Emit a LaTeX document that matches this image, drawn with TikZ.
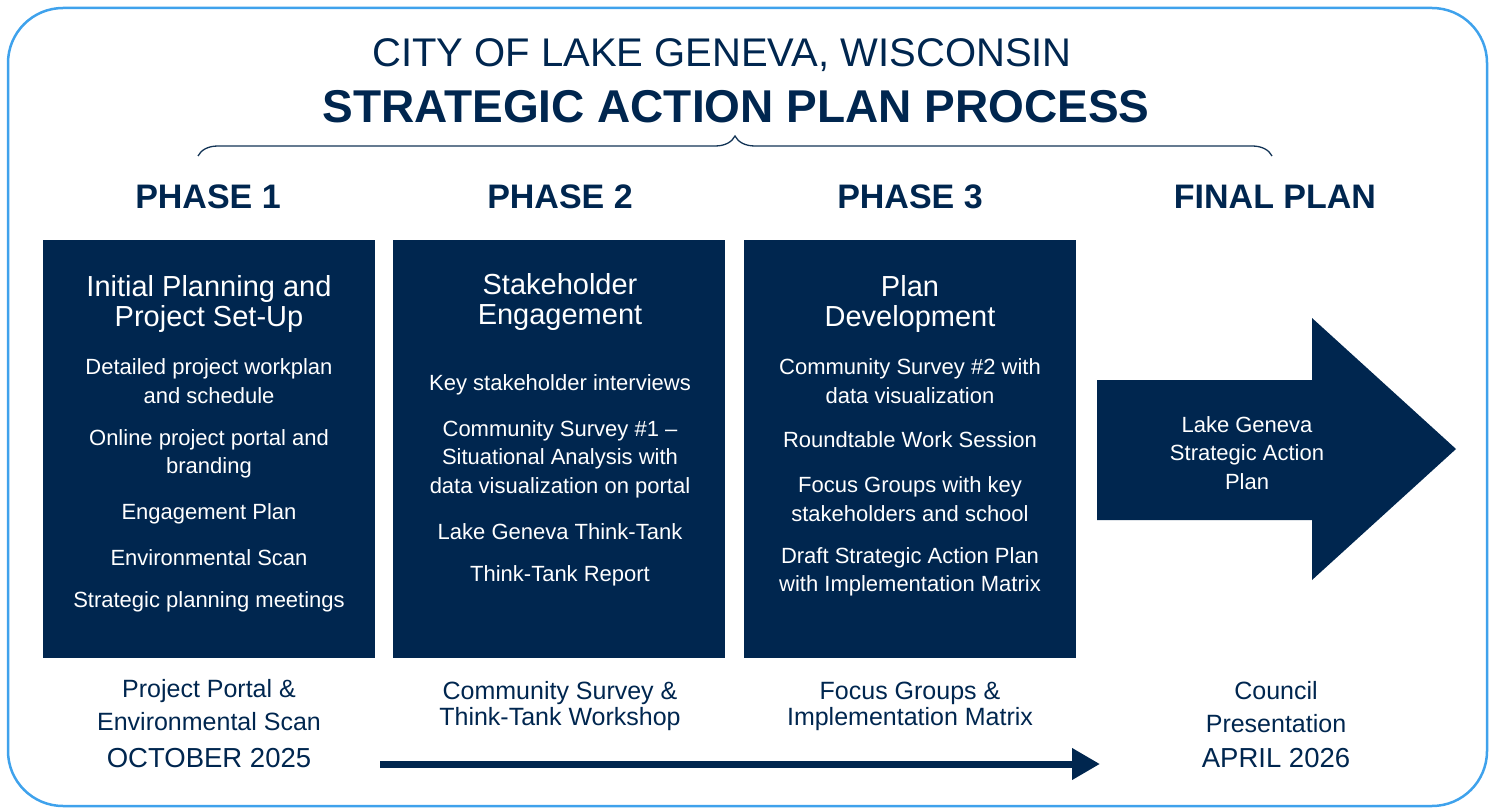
\documentclass[tikz,border=0pt]{standalone}
\usepackage{fontspec}
\setmainfont{Liberation Sans}
\usetikzlibrary{arrows.meta,decorations.pathreplacing}
\definecolor{navy}{HTML}{00264F}
\definecolor{skyedge}{HTML}{3FA2EC}
\tikzset{
  phasebox/.style={fill=navy,draw=none,minimum width=332pt,minimum height=418pt,inner sep=0pt},
  boxtitle/.style={text=white,align=center,font=\fontsize{29}{30.5}\selectfont},
  boxitem/.style={text=white,align=center,font=\fontsize{22}{28.5}\selectfont},
  phasehead/.style={text=navy,font=\bfseries\fontsize{34}{38}\selectfont},
  milestone/.style={text=navy,align=center,font=\fontsize{25}{26}\selectfont},
  datelabel/.style={text=navy,font=\fontsize{27.5}{30}\selectfont}
}
\begin{document}
\begin{tikzpicture}[x=1pt,y=-1pt]
      \useasboundingbox (0,0) rectangle (1495,810);
      \draw[skyedge,line width=2.5pt,rounded corners=55pt] (8,8) rectangle (1487,806);
      % title
      \node[text=navy,font=\fontsize{40}{44}\selectfont] (city) at (722,55) {CITY OF LAKE GENEVA, WISCONSIN};
      \node[text=navy,font=\bfseries\fontsize{46}{50}\selectfont] (title) at (736,107) {STRATEGIC ACTION PLAN PROCESS};
      \coordinate (bl) at (198,156);
      \coordinate (br) at (1272,156);
      \draw[navy!85!gray,line width=1.3pt,decorate,decoration={brace,amplitude=20pt,aspect=0.5}] (bl) -- (br);
      % phase headings
      \node[phasehead] (h1) at (208,197) {PHASE 1};
      \node[phasehead] (h2) at (560,197) {PHASE 2};
      \node[phasehead] (h3) at (910,197) {PHASE 3};
      \node[phasehead] (h4) at (1275,197) {FINAL PLAN};
      % phase boxes
      \node[phasebox] (p1) at (209,449) {};
      \node[phasebox] (p2) at (559,449) {};
      \node[phasebox] (p3) at (910,449) {};
      % phase 1
      \node[boxtitle] (p1t) at (209,304) {Initial Planning and\\Project Set-Up};
      \node[boxitem] (p1a) at (209,381) {Detailed project workplan\\and schedule};
      \node[boxitem] (p1b) at (209,454) {Online project portal and\\branding};
      \node[boxitem] (p1c) at (209,514) {Engagement Plan};
      \node[boxitem] (p1d) at (209,558) {Environmental Scan};
      \node[boxitem] (p1e) at (209,602) {Strategic planning meetings};
      % phase 2
      \node[boxtitle] (p2t) at (560,302) {Stakeholder\\Engagement};
      \node[boxitem] (p2a) at (560,385) {Key stakeholder interviews};
      \node[boxitem] (p2b) at (560,459) {Community Survey \#1 --\\Situational Analysis with\\data visualization on portal};
      \node[boxitem] (p2c) at (560,532) {Lake Geneva Think-Tank};
      \node[boxitem] (p2d) at (560,576) {Think-Tank Report};
      % phase 3
      \node[boxtitle] (p3t) at (910,304) {Plan\\Development};
      \node[boxitem] (p3a) at (910,381) {Community Survey \#2 with\\data visualization};
      \node[boxitem] (p3b) at (910,440) {Roundtable Work Session};
      \node[boxitem] (p3c) at (910,499) {Focus Groups with key\\stakeholders and school};
      \node[boxitem] (p3d) at (910,572) {Draft Strategic Action Plan\\with Implementation Matrix};
      % final plan
      \fill[navy] (1097,380) -- (1312,380) -- (1312,318) -- (1456,449)
        -- (1312,580) -- (1312,520) -- (1097,520) -- cycle;
      \node[boxitem] (fin) at (1247,453) {Lake Geneva\\Strategic Action\\Plan};
      % milestones
      \node[milestone,font=\fontsize{25}{33}\selectfont] (m1) at (209,705) {Project Portal \&\\Environmental Scan};
      \node[datelabel] (d1) at (209,758) {OCTOBER 2025};
      \node[milestone] (m2) at (560,706) {Community Survey \&\\Think-Tank Workshop};
      \node[milestone] (m3) at (910,706) {Focus Groups \&\\Implementation Matrix};
      \node[milestone,font=\fontsize{25}{33}\selectfont] (m4) at (1276,707) {Council\\Presentation};
      \node[datelabel] (d4) at (1276,758) {APRIL 2026};
      \coordinate (tl) at (380,764);
      \coordinate (tr) at (1100,764);
      \draw[navy,line width=7pt,-{Triangle[length=28pt,width=30pt]}] (tl) -- (tr);
    \end{tikzpicture}
\end{document}
